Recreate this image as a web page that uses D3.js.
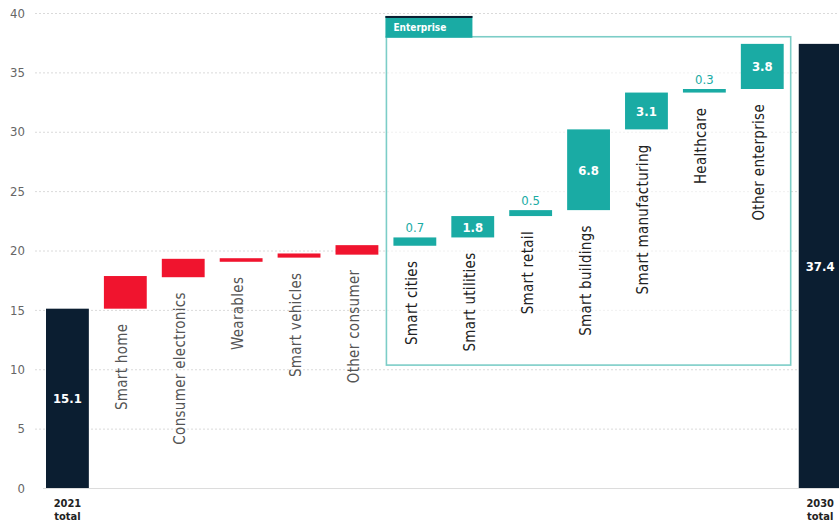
<!DOCTYPE html>
<html>
<head>
<meta charset="utf-8">
<script src="https://cdn.jsdelivr.net/npm/d3@7"></script>
<style>
  body { margin: 0; background: #fff; }
  svg text { font-family: "DejaVu Sans Condensed", "Liberation Sans Narrow", sans-serif; }
</style>
</head>
<body>
<div id="chart"></div>
<script>
// data
var categories = ["2021 total", "Smart home", "Consumer electronics", "Wearables", "Smart vehicles", "Other consumer",
    "Smart cities", "Smart utilities", "Smart retail", "Smart buildings", "Smart manufacturing", "Healthcare", "Other enterprise", "2030 total"];
var totals = [15.1, 37.4];
var consumerCats = ["Smart home", "Consumer electronics", "Wearables", "Smart vehicles", "Other consumer"];
var consumerLow = [15.1, 17.75, 19.05, 19.4, 19.65];
var consumerHigh = [17.85, 19.3, 19.35, 19.75, 20.45];
var enterpriseCats = ["Smart cities", "Smart utilities", "Smart retail", "Smart buildings", "Smart manufacturing", "Healthcare", "Other enterprise"];
var enterpriseValues = [0.7, 1.8, 0.5, 6.8, 3.1, 0.3, 3.8];
var enterpriseStart = 20.4;
var yTicks = [0, 5, 10, 15, 20, 25, 30, 35, 40];

function draw() {
    var w = 839;
    var h = 525;

    var navy = "#0b1e31";
    var red = "#f0142e";
    var teal = "#1aaba4";

    var svg = d3.select("#chart")
        .append("svg")
        .attr("width", w)
        .attr("height", h);

    // scales
    var x = d3.scaleBand()
        .domain(categories)
        .range([46, 841.6])
        .paddingInner(0.26)
        .paddingOuter(0);

    var y = d3.scaleLinear()
        .domain([0, 40])
        .range([488, 13]);

    // y axis with dotted gridlines
    var yAxis = d3.axisLeft(y)
        .tickValues(yTicks)
        .tickSize(-(w - 35))
        .tickPadding(10);

    var gAxis = svg.append("g")
        .attr("transform", "translate(35,0)")
        .call(yAxis);
    gAxis.select(".domain").remove();
    gAxis.selectAll(".tick line")
        .attr("stroke", "#dadada")
        .attr("stroke-dasharray", "2,2")
        .attr("stroke-width", 1);
    gAxis.selectAll(".tick text")
        .attr("fill", "#666")
        .attr("font-size", "13px");
    // solid baseline at zero
    gAxis.selectAll(".tick")
        .filter(function(d) { return d == 0; })
        .select("line")
        .attr("x1", 8)
        .attr("stroke-dasharray", null)
        .attr("stroke", "#dcdcdc");

    // enterprise box
    var boxLeft = x(enterpriseCats[0]) - 7;
    var boxRight = x(enterpriseCats[enterpriseCats.length - 1]) + x.bandwidth() + 7;
    svg.append("rect")
        .attr("x", boxLeft)
        .attr("y", y(38))
        .attr("width", boxRight - boxLeft)
        .attr("height", y(10.35) - y(38))
        .attr("fill", "white")
        .attr("fill-opacity", 0.6)
        .attr("stroke", "#7ccdc7")
        .attr("stroke-width", 1.6);

    // tab
    svg.append("rect")
        .attr("x", boxLeft - 1)
        .attr("y", y(39.75))
        .attr("width", 87)
        .attr("height", y(38) - y(39.75) + 1)
        .attr("fill", teal);
    svg.append("rect")
        .attr("x", boxLeft - 1)
        .attr("y", y(39.75))
        .attr("width", 87)
        .attr("height", 2)
        .attr("fill", navy);
    svg.append("text")
        .attr("x", boxLeft + 7)
        .attr("y", y(39.75) + 15)
        .attr("fill", "white")
        .attr("font-size", "10px")
        .attr("font-weight", "bold")
        .text("Enterprise");

    // totals
    var totalData = [
        { cat: categories[0], value: totals[0], label: ["2021", "total"] },
        { cat: categories[categories.length - 1], value: totals[1], label: ["2030", "total"] }
    ];
    svg.selectAll("rect.total")
        .data(totalData)
        .enter()
        .append("rect")
        .attr("class", "total")
        .attr("x", function(d) { return x(d.cat); })
        .attr("y", function(d) { return y(d.value); })
        .attr("width", x.bandwidth())
        .attr("height", function(d) { return y(0) - y(d.value); })
        .attr("fill", navy);

    svg.selectAll("text.totalval")
        .data(totalData)
        .enter()
        .append("text")
        .attr("class", "totalval")
        .attr("x", function(d) { return x(d.cat) + x.bandwidth() / 2; })
        .attr("y", function(d) { return (y(0) + y(d.value)) / 2 + 5; })
        .attr("text-anchor", "middle")
        .attr("fill", "white")
        .attr("font-size", "13px")
        .attr("font-weight", "bold")
        .text(function(d) { return d.value.toFixed(1); });

    totalData.forEach(function(d) {
        var t = svg.append("text")
            .attr("text-anchor", "middle")
            .attr("fill", "#222")
            .attr("font-size", "11px")
            .attr("font-weight", "bold");
        t.append("tspan")
            .attr("x", x(d.cat) + x.bandwidth() / 2)
            .attr("y", 507)
            .text(d.label[0]);
        t.append("tspan")
            .attr("x", x(d.cat) + x.bandwidth() / 2)
            .attr("y", 520)
            .text(d.label[1]);
    });

    // consumer bars
    var consumerData = consumerCats.map(function(c, i) {
        return { cat: c, low: consumerLow[i], high: consumerHigh[i] };
    });
    svg.selectAll("rect.consumer")
        .data(consumerData)
        .enter()
        .append("rect")
        .attr("class", "consumer")
        .attr("x", function(d) { return x(d.cat); })
        .attr("y", function(d) { return y(d.high); })
        .attr("width", x.bandwidth())
        .attr("height", function(d) { return y(d.low) - y(d.high); })
        .attr("fill", red);

    // enterprise bars, cumulative from end of consumer
    var run = enterpriseStart;
    var enterpriseData = enterpriseCats.map(function(c, i) {
        var d = { cat: c, low: run, high: run + enterpriseValues[i], value: enterpriseValues[i] };
        run = d.high;
        return d;
    });
    svg.selectAll("rect.enterprise")
        .data(enterpriseData)
        .enter()
        .append("rect")
        .attr("class", "enterprise")
        .attr("x", function(d) { return x(d.cat); })
        .attr("y", function(d) { return y(d.high); })
        .attr("width", x.bandwidth())
        .attr("height", function(d) { return y(d.low) - y(d.high); })
        .attr("fill", teal);

    // value labels: inside for big bars, above for thin ones
    svg.selectAll("text.entval")
        .data(enterpriseData)
        .enter()
        .append("text")
        .attr("class", "entval")
        .attr("x", function(d) { return x(d.cat) + x.bandwidth() / 2; })
        .attr("y", function(d) {
            if (d.value >= 1) return (y(d.low) + y(d.high)) / 2 + 5;
            return y(d.high) - 5;
        })
        .attr("text-anchor", "middle")
        .attr("fill", function(d) { return d.value >= 1 ? "white" : teal; })
        .attr("font-size", "13px")
        .attr("font-weight", function(d) { return d.value >= 1 ? "bold" : "normal"; })
        .text(function(d) { return d.value.toFixed(1); });

    // rotated category labels under each floating bar
    var allFloat = consumerData.concat(enterpriseData);
    svg.selectAll("text.catlabel")
        .data(allFloat)
        .enter()
        .append("text")
        .attr("class", "catlabel")
        .attr("text-anchor", "end")
        .attr("transform", function(d) {
            var cx = x(d.cat) + x.bandwidth() / 2 + 2;
            var cy = y(d.low) + 15;
            return "translate(" + cx + "," + cy + ") rotate(-90)";
        })
        .attr("fill", function(d) { return consumerCats.indexOf(d.cat) >= 0 ? "#555" : "#222"; })
        .attr("font-size", "15px")
        .attr("letter-spacing", "0.3px")
        .text(function(d) { return d.cat; });
}

window.onload = draw;
</script>
</body>
</html>
